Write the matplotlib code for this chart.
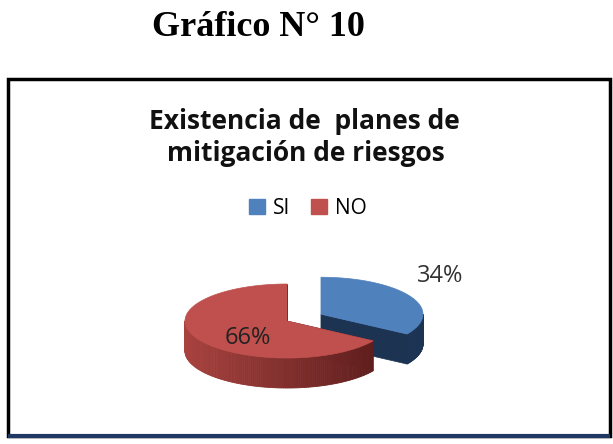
import numpy as np
import matplotlib
matplotlib.use('Agg')
import matplotlib.pyplot as plt
from matplotlib.patches import Polygon, Rectangle, Patch
from matplotlib.colors import to_rgb

# data
labels = ['SI', 'NO']
values = [34, 66]
top_colors = ['#4F81BD', '#C0504D']
side_colors = [('#2E5080', '#1C3352'), ('#A8423F', '#5A1C1B')]
explode = [0.38, 0.0]

fig = plt.figure(figsize=(6.13, 4.44), dpi=100)
ax = fig.add_axes([0, 0, 1, 1])
ax.set_xlim(0, 613)
ax.set_ylim(444, 0)
ax.axis('off')

# frame of the chart
ax.add_patch(Rectangle((8, 79), 602, 357, fill=False, lw=2.5, ec='black'))
ax.plot([8, 610], [436, 436], color='#1F3864', lw=3, solid_capstyle='butt')

ax.text(258, 27, 'Gráfico N° 10', family='Liberation Serif', weight='bold',
        size=26, ha='center', va='center')
ax.text(304, 121, 'Existencia de  planes de', family='Open Sans', weight='bold',
        size=19, ha='center', va='center', color='#111111')
ax.text(306, 153, 'mitigación de riesgos', family='Open Sans', weight='bold',
        size=19, ha='center', va='center', color='#111111')

# 3d pie (drawn by hand: top face, front side, cut faces)
cx, cy, rx, ry, depth = 287, 321, 102, 37, 30
fracs = np.array(values) / sum(values)
ends = 90 - 360 * np.cumsum(fracs)
starts = np.concatenate([[90], ends[:-1]])


def mix(c1, c2, f):
    a, b = np.array(to_rgb(c1)), np.array(to_rgb(c2))
    return tuple(a + (b - a) * f)


for i in range(len(values)):
    a0, a1 = np.radians(ends[i]), np.radians(starts[i])
    mid = (a0 + a1) / 2
    ox = cx + explode[i] * rx * np.cos(mid)
    oy = cy - explode[i] * ry * np.sin(mid)
    light, dark = side_colors[i]

    def rim(t, dz=0):
        return (ox + rx * np.cos(t), oy - ry * np.sin(t) + dz)

    # cut faces
    for t in (a0, a1):
        quad = [(ox, oy), rim(t), rim(t, depth), (ox, oy + depth)]
        ax.add_patch(Polygon(quad, closed=True, fc=dark, ec=dark, lw=0.5))
    # outer side, front part only
    ts = np.linspace(a0, a1, 200)
    for k in range(len(ts) - 1):
        tm = (ts[k] + ts[k + 1]) / 2
        if np.sin(tm) >= 0:
            continue
        f = (1 + np.cos(tm)) / 2
        c = mix(light, dark, f)
        quad = [rim(ts[k]), rim(ts[k + 1]), rim(ts[k + 1], depth), rim(ts[k], depth)]
        ax.add_patch(Polygon(quad, closed=True, fc=c, ec=c, lw=0.6))
    # top face
    pts = [(ox, oy)] + [rim(t) for t in ts]
    ax.add_patch(Polygon(pts, closed=True, fc=top_colors[i], ec=top_colors[i], lw=0.5))

ax.text(440, 276, f'{values[0]}%', family='Open Sans', size=17, ha='center',
        va='center', color='#333333')
ax.text(248, 338, f'{values[1]}%', family='Open Sans', size=17, ha='center',
        va='center', color='#222222')

handles = [Patch(color=top_colors[i], label=labels[i]) for i in range(len(labels))]
ax.legend(handles=handles, loc='center', bbox_to_anchor=(308 / 613, 1 - 208 / 444),
          ncol=2, frameon=False, handlelength=0.75, handleheight=0.75,
          columnspacing=1.0, handletextpad=0.4, prop={'family': 'Open Sans', 'size': 15})

fig.savefig('out.png', dpi=100)
